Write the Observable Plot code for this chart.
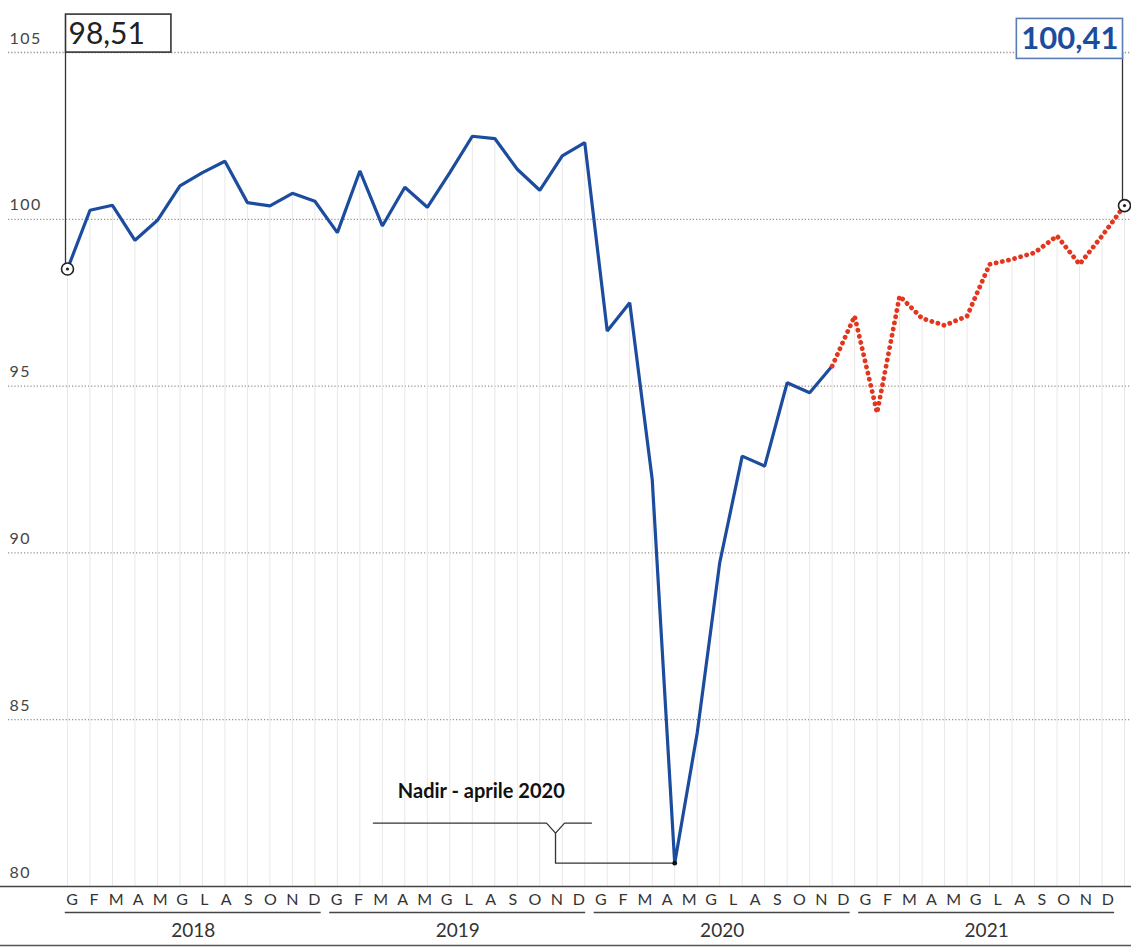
<!DOCTYPE html>
<html><head><meta charset="utf-8">
<script src="https://cdn.jsdelivr.net/npm/d3@7"></script>
<script src="https://cdn.jsdelivr.net/npm/@observablehq/plot@0.6"></script>
<style>body{margin:0;background:#fff;} svg{display:block;}</style>
</head><body><div id="chart"></div>
<script>
// ---- data ----
const years = ["2018", "2019", "2020", "2021"];
const monthLetters = ["G","F","M","A","M","G","L","A","S","O","N","D"];
const yTicks = [80, 85, 90, 95, 100, 105];
const values = [
  98.51, 100.27, 100.42, 99.37, 99.97, 101.0, 101.4, 101.74, 100.5, 100.4, 100.78, 100.54,
  99.6, 101.45, 99.8, 100.96, 100.36, 101.4, 102.49, 102.42, 101.5, 100.87, 101.9, 102.3,
  96.65, 97.5, 92.2, 80.7, 84.6, 89.7, 92.9, 92.6, 95.1, 94.8, 95.6, 97.1,
  94.2, 97.7, 97.03, 96.82, 97.1, 98.65, 98.8, 99.0, 99.5, 98.65, 99.5, 100.41
];
const forecastStart = 34; // last observed month (Nov 2020); dotted from here on
const startLabel = "98,51";
const endLabel = "100,41";
const nadirLabel = "Nadir - aprile 2020";

// ---- derived tables ----
const data = values.map((v, i) => ({i, v}));
const last = values.length - 1;
const nadirI = values.indexOf(Math.min(...values));
const nadirV = values[nadirI];
const letters = [];
years.forEach((y, yi) => monthLetters.forEach((m, mi) => letters.push({k: yi * 12 + mi, m})));
const letterX = k => 0.2 + k * 0.98;
const yearRows = years.map((y, yi) => ({y, yi}));

const blue = "#1c4c9e", red = "#e3361f";
const bY = nadirV + 1.2;
const bracket = [
  {g: 0, x: nadirI - 13.4, y: bY}, {g: 0, x: nadirI - 5.7, y: bY}, {g: 0, x: nadirI - 5.3, y: bY - 0.3},
  {g: 0, x: nadirI - 4.9, y: bY}, {g: 0, x: nadirI - 3.7, y: bY},
  {g: 1, x: nadirI - 5.3, y: bY - 0.3}, {g: 1, x: nadirI - 5.3, y: nadirV}, {g: 1, x: nadirI, y: nadirV}
];

const plot = Plot.plot({
  width: 1131, height: 947,
  marginTop: 0, marginBottom: 0, marginLeft: 0, marginRight: 0,
  x: {domain: [0, last], range: [67, 1124], axis: null},
  y: {domain: [80, 105], range: [886, 52], axis: null},
  style: {fontFamily: "Lato, 'Open Sans', sans-serif", background: "#fff"},
  marks: [
    Plot.ruleY(yTicks.filter(t => t > 80), {stroke: "#9a9083", strokeWidth: 1.3, strokeDasharray: "1.2 2", insetLeft: 8}),
    Plot.ruleX(data, {x: "i", y1: 80, y2: "v", stroke: "#e8e8e8", strokeWidth: 1}),
    Plot.ruleY([80], {stroke: "#444", strokeWidth: 1.6}),
    Plot.text(yTicks, {x: 0, y: d => d, text: d => String(d), dx: -58, dy: -14, textAnchor: "start", fontSize: 16, fill: "#444"}),
    // leaders
    Plot.ruleX([0], {x: d => d, y1: values[0], y2: 105, dx: -2, stroke: "#333", strokeWidth: 1.3}),
    Plot.ruleX([last], {x: d => d, y1: values[last], y2: 105, dx: -2, stroke: "#333", strokeWidth: 1.3}),
    // series
    Plot.line(data.slice(0, forecastStart + 1), {x: "i", y: "v", stroke: blue, strokeWidth: 3.2, strokeLinejoin: "miter"}),
    Plot.line(data.slice(forecastStart), {x: "i", y: "v", stroke: red, strokeWidth: 4.8, strokeDasharray: "0.1 6.2", strokeLinecap: "round"}),
    Plot.dot([0, last], {x: d => d, y: d => values[d], r: 6, fill: "#fff", stroke: "#222", strokeWidth: 1.6}),
    Plot.dot([0, last], {x: d => d, y: d => values[d], r: 1.6, fill: "#222"}),
    // nadir annotation
    Plot.line(bracket, {x: "x", y: "y", z: "g", stroke: "#333", strokeWidth: 1.3, curve: "linear"}),
    Plot.dot([nadirI], {x: d => d, y: nadirV, r: 2.4, fill: "#111"}),
    Plot.text([nadirLabel], {x: nadirI - 8.6, y: nadirV + 2.15, text: d => d, fontSize: 20, fontWeight: "bold", fill: "#111"}),
    // value boxes
    Plot.text([startLabel], {x: 0, y: 105, text: d => d, dx: 1, dy: -18, textAnchor: "start", fontSize: 30, fill: "#222"}),
    Plot.text([endLabel], {x: last, y: 105, text: d => d, dx: -6, dy: -13, textAnchor: "end", fontSize: 31, fontWeight: "bold", fill: blue}),
    // month letters, year underlines, years
    Plot.text(letters, {x: d => letterX(d.k), y: 80, text: "m", dy: 13, fontSize: 16, fill: "#333"}),
    Plot.ruleY(yearRows, {y: 80, x1: d => letterX(d.yi * 12) - 0.3, x2: d => letterX(d.yi * 12 + 11) + 0.3, dy: 26, stroke: "#444", strokeWidth: 1.4}),
    Plot.text(yearRows, {x: d => letterX(d.yi * 12 + 5.5), y: 80, text: "y", dy: 44, fontSize: 19, fill: "#333"}),
    Plot.ruleY([80], {dy: 59, stroke: "#555", strokeWidth: 1.6})
  ]
});
document.getElementById("chart").appendChild(plot);

// letter-spacing for the y tick labels
const tickStrings = yTicks.map(String);
plot.querySelectorAll("text").forEach(t => {
  if (tickStrings.includes(t.textContent)) t.style.letterSpacing = "1.5px";
});

function boxAround(label, padL, padR, padT, padB, stroke) {
  const t = Array.from(plot.querySelectorAll("text")).find(e => e.textContent === label);
  if (!t) return;
  const b = t.getBBox();
  const r = document.createElementNS("http://www.w3.org/2000/svg", "rect");
  r.setAttribute("x", b.x - padL);
  r.setAttribute("y", b.y - padT);
  r.setAttribute("width", b.width + padL + padR);
  r.setAttribute("height", b.height + padT + padB);
  r.setAttribute("fill", "#fff");
  r.setAttribute("stroke", stroke);
  r.setAttribute("stroke-width", 1.6);
  if (t.getAttribute("transform")) r.setAttribute("transform", t.getAttribute("transform"));
  t.parentNode.insertBefore(r, t);
}
boxAround(startLabel, 3, 26, 0, 2, "#333");
boxAround(endLabel, 5, 4, 0, 2, "#5a7bb5");
</script>
</body></html>
